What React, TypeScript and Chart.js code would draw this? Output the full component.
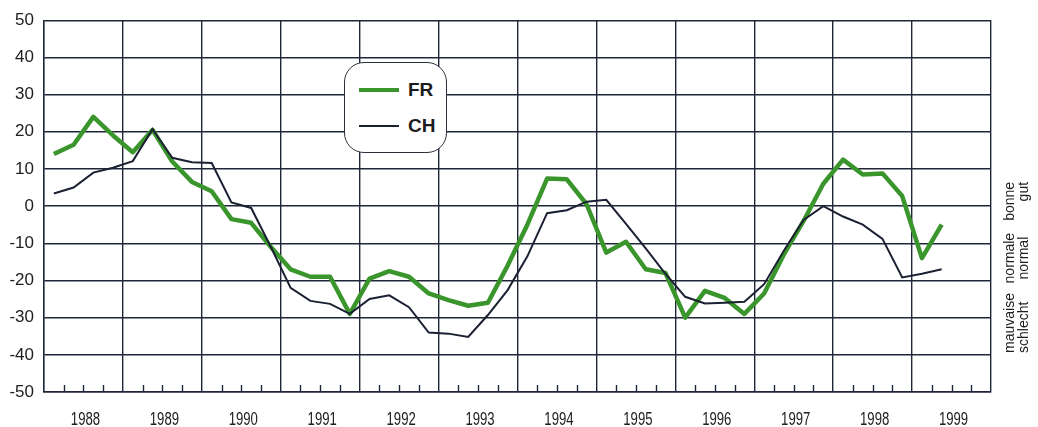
import React, { useEffect, useRef } from 'react';
import { Chart, registerables } from 'chart.js';

Chart.register(...registerables);

// ---- data ----
const yearLabels = ['1988', '1989', '1990', '1991', '1992', '1993', '1994', '1995', '1996', '1997', '1998', '1999'];

// quarterly values, starting 1988 Q1
const frValues = [
  14, 16.5, 24, 19, 14.5, 20.5, 12, 6.5, 4, -3.5, -4.5, -11,
  -17, -19, -19, -29, -19.5, -17.5, -19, -23.5, -25.3, -26.8, -26, -16,
  -5, 7.4, 7.2, 0.5, -12.5, -9.6, -17, -18, -30, -22.8, -24.7, -29,
  -23.5, -13, -4, 6, 12.5, 8.5, 8.8, 2.7, -14, -5,
];
const chValues = [
  3.4, 5, 9, 10.3, 12.1, 20.7, 13, 11.8, 11.6, 1, -0.5, -11,
  -22, -25.5, -26.3, -29, -25, -24, -27.2, -34, -34.3, -35.2, -29.3, -22.6,
  -13.5, -1.9, -1.1, 1.2, 1.7, -4.8, -11.4, -18.2, -24.4, -26.2, -26, -25.7,
  -21, -12, -3.7, 0, -2.8, -5, -8.8, -19.2, -18.2, -17,
];

const seriesNames = ['FR', 'CH'];
const yMin = -50;
const yMax = 50;
const yStep = 10;

const frenchLevels = ['mauvaise', 'normale', 'bonne'];
const germanLevels = ['schlecht', 'normal', 'gut'];

const GRID = '#1f2639';
const FR_COLOR = '#3a962c';
const CH_COLOR = '#1b2133';
const TEXT = '#202020';

const toPoints = (values: number[]) => values.map((v, i) => ({ x: i / 4 + 0.125, y: v }));

const extrasPlugin = {
  id: 'extras',
  afterDraw(chart: any) {
    const { ctx, chartArea, scales } = chart;
    const xs = scales.x;
    const ys = scales.y;
    // quarter tick marks inside the plot on the bottom axis
    ctx.save();
    ctx.strokeStyle = GRID;
    ctx.lineWidth = 1.4;
    for (let yr = 0; yr < yearLabels.length; yr++) {
      for (let q = 1; q < 4; q++) {
        const px = Math.round(xs.getPixelForValue(yr + q / 4)) + 0.5;
        ctx.beginPath();
        ctx.moveTo(px, chartArea.bottom);
        ctx.lineTo(px, chartArea.bottom - 7);
        ctx.stroke();
      }
    }
    ctx.restore();

    // condensed year labels centred in each year cell
    yearLabels.forEach((label, i) => {
      const px = xs.getPixelForValue(i + 0.5) + 2;
      ctx.save();
      ctx.translate(px, chartArea.bottom + 28);
      ctx.scale(0.73, 1);
      ctx.font = '18px "Liberation Sans", Arial, sans-serif';
      ctx.fillStyle = TEXT;
      ctx.textAlign = 'center';
      ctx.textBaseline = 'middle';
      ctx.fillText(label, 0, 0);
      ctx.restore();
    });

    // rotated level labels on the right
    const drawCol = (labels: string[], cx: number) => {
      const anchors = [
        { v: -39.5, align: 'left' },
        { v: -14, align: 'center' },
        { v: 6.5, align: 'right' },
      ];
      labels.forEach((t, i) => {
        const py = ys.getPixelForValue(anchors[i].v);
        ctx.save();
        ctx.translate(cx, py);
        ctx.rotate(-Math.PI / 2);
        ctx.font = '14px "Liberation Sans", Arial, sans-serif';
        ctx.fillStyle = TEXT;
        ctx.textAlign = anchors[i].align;
        ctx.textBaseline = 'middle';
        ctx.fillText(t, 0, 0);
        ctx.restore();
      });
    };
    drawCol(frenchLevels, chartArea.right + 19);
    drawCol(germanLevels, chartArea.right + 33);
  },
};

export default function App() {
  const canvasRef = useRef<HTMLCanvasElement | null>(null);

  useEffect(() => {
    if (!canvasRef.current) return;
    const xTicks = yearLabels.map((_, i) => ({ value: i })).concat([{ value: yearLabels.length }]);

    const chart = new Chart(canvasRef.current, {
      type: 'line',
      data: {
        datasets: [
          {
            label: seriesNames[0],
            data: toPoints(frValues),
            borderColor: FR_COLOR,
            borderWidth: 4.5,
            pointRadius: 0,
            tension: 0,
            order: 2,
            borderJoinStyle: 'round',
          },
          {
            label: seriesNames[1],
            data: toPoints(chValues),
            borderColor: CH_COLOR,
            borderWidth: 2,
            pointRadius: 0,
            tension: 0,
            order: 1,
          },
        ],
      },
      options: {
        animation: false,
        responsive: false,
        layout: { padding: { top: 15, right: 47, bottom: 0, left: 0 } },
        plugins: { legend: { display: false }, tooltip: { enabled: false } },
        scales: {
          x: {
            type: 'linear',
            min: 0,
            max: yearLabels.length,
            afterBuildTicks: (scale: any) => {
              scale.ticks = xTicks.map((t) => ({ ...t }));
            },
            afterFit: (scale: any) => {
              scale.height = 35;
            },
            ticks: {
              autoSkip: false,
              maxRotation: 0,
              minRotation: 0,
              callback: () => '',
            },
            grid: { drawTicks: false, lineWidth: 1.4, color: GRID },
            border: { color: GRID, width: 1.4 },
          },
          y: {
            min: yMin,
            max: yMax,
            afterFit: (scale: any) => {
              scale.width = 44;
            },
            ticks: {
              stepSize: yStep,
              padding: 10,
              color: TEXT,
              font: { family: '"Liberation Sans", Arial, sans-serif', size: 17 },
            },
            grid: { drawTicks: false, lineWidth: 1.4, color: GRID },
            border: { color: GRID, width: 1.4 },
          },
        },
      },
      plugins: [extrasPlugin],
    } as any);
    return () => chart.destroy();
  }, []);

  const legendFont = '"Liberation Sans", Arial, sans-serif';

  return (
    <div style={{ position: 'fixed', left: 0, top: 0, width: 1038, height: 427, background: '#fff' }}>
      <canvas ref={canvasRef} width={1038} height={427} style={{ display: 'block' }} />
      <div
        style={{
          position: 'absolute',
          left: 344,
          top: 62,
          width: 103,
          height: 91,
          boxSizing: 'border-box',
          border: '1.5px solid #2a2f3a',
          borderRadius: 20,
          background: '#fff',
          fontFamily: legendFont,
          fontWeight: 'bold',
          fontSize: 19,
          color: '#1c1c1c',
        }}
      >
        {seriesNames.map((name, i) => (
          <div key={name} style={{ position: 'absolute', left: 0, top: i === 0 ? 27 : 63, width: '100%', height: 0 }}>
            <div
              style={{
                position: 'absolute',
                left: 14,
                width: 40,
                top: i === 0 ? -2.25 : -1,
                height: i === 0 ? 4.5 : 2,
                background: i === 0 ? FR_COLOR : CH_COLOR,
              }}
            />
            <div style={{ position: 'absolute', left: 63, top: -11, lineHeight: '22px' }}>{name}</div>
          </div>
        ))}
      </div>
    </div>
  );
}
